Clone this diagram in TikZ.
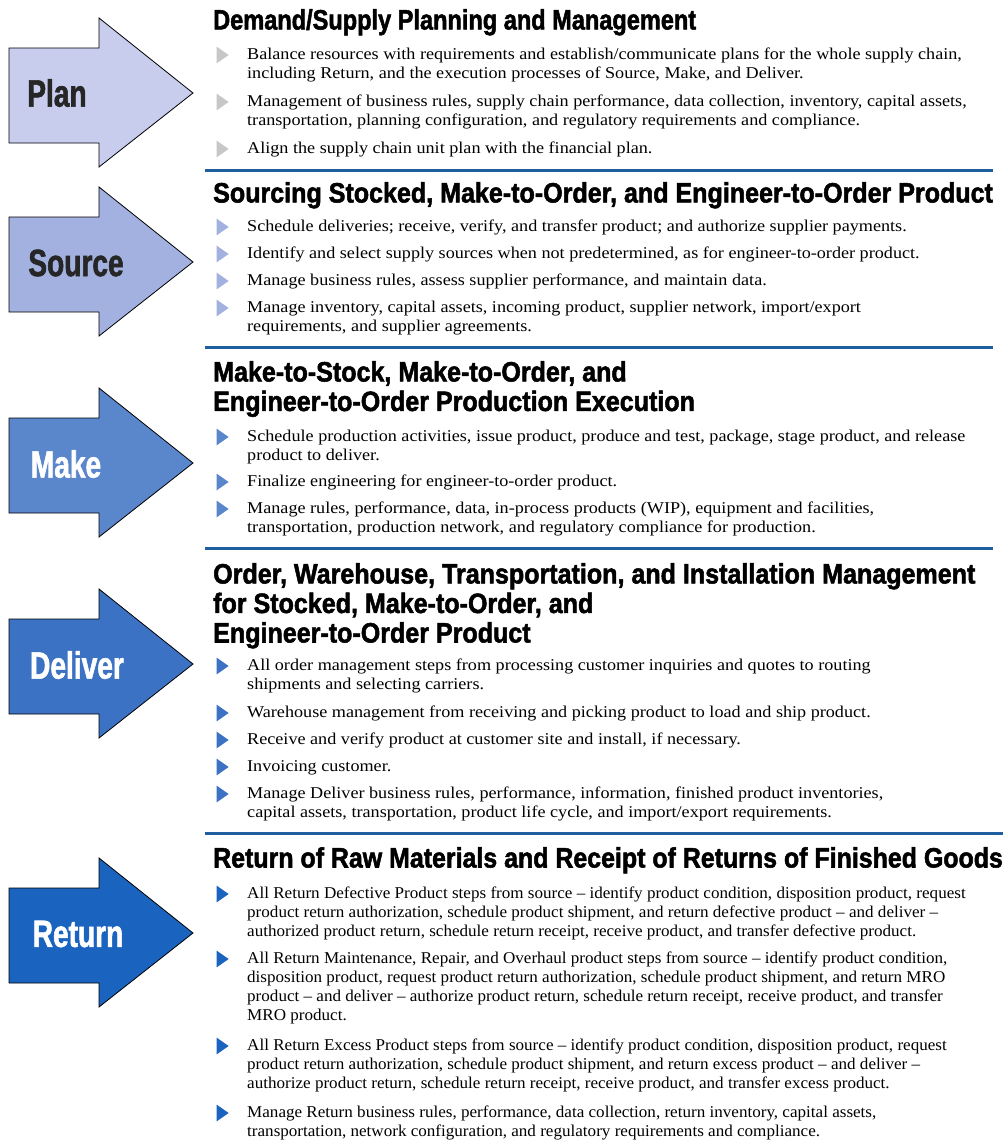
\documentclass[tikz,border=0pt]{standalone}
\usepackage{fontspec}
\setmainfont{Liberation Serif}[FakeStretch=1.1]
\newfontfamily\headfont{Liberation Sans}[FakeStretch=0.895,FakeBold=1.8]
\newfontfamily\lblfont{Liberation Sans}[FakeStretch=0.74,FakeBold=1.5]
\newfontfamily\narrowfont{Liberation Serif}[FakeStretch=1.035,Ligatures=TeX]
\usetikzlibrary{shapes.geometric}

\definecolor{planc}{HTML}{C8CDEE}
\definecolor{sourcec}{HTML}{A3B1E0}
\definecolor{makec}{HTML}{5A86CC}
\definecolor{deliverc}{HTML}{3C72C4}
\definecolor{returnc}{HTML}{1A63BE}
\definecolor{rulec}{HTML}{1F5FA0}

\tikzset{
  head/.style={anchor=north west, inner sep=0pt, align=left,
    font=\headfont\bfseries\fontsize{28}{29.5}\selectfont},
  item/.style={anchor=north west, inner sep=0pt, align=left,
    font=\fontsize{16.5}{19}\selectfont},
  ritem/.style={item, font=\narrowfont\fontsize{16.5}{19}\selectfont},
  bul/.style={isosceles triangle, isosceles triangle apex angle=70,
    inner sep=0pt, minimum height=12pt, minimum width=12pt, fill=#1},
  lbl/.style={font=\lblfont\bfseries\fontsize{38}{38}\selectfont, text=#1},
  sep/.style={draw=rulec, line width=3pt}
}

\begin{document}
\begin{tikzpicture}[x=1pt, y=-1pt]
\useasboundingbox (0,0) rectangle (1006,1143);

% the five arrows
\foreach \c/\col in {93/planc, 262/sourcec, 463/makec, 664/deliverc, 933/returnc}
  \draw[fill=\col, line width=0.8pt]
    (9,\c-45) -- (99,\c-45) -- (99,\c-75) -- (193,\c) -- (99,\c+74)
    -- (99,\c+50) -- (9,\c+50) -- cycle;
\node[lbl=black!85] (plan) at (57,93) {Plan};
\node[lbl=black!85] (source) at (76,263) {Source};
\node[lbl=white] (make) at (66,464) {Make};
\node[lbl=white] (deliver) at (77,665) {Deliver};
\node[lbl=white] (return) at (78,934) {Return};

% Plan
\node[head, xscale=0.94] (planhead) at (213,9) {Demand/Supply Planning and Management};
\node[bul=black!22] (pb1) at (221,55) {};
\node[item] (pt1) at (247,48) {Balance resources with requirements and establish/communicate plans for the whole supply chain,\\including Return, and the execution processes of Source, Make, and Deliver.};
\node[bul=black!22] (pb2) at (221,102) {};
\node[item] (pt2) at (247,95) {Management of business rules, supply chain performance, data collection, inventory, capital assets,\\transportation, planning configuration, and regulatory requirements and compliance.};
\node[bul=black!22] (pb3) at (221,149) {};
\node[item] (pt3) at (247,142) {Align the supply chain unit plan with the financial plan.};
\draw[sep] (205,170) -- (993,170);

% Source
\node[head] (sourcehead) at (213,182) {Sourcing Stocked, Make-to-Order, and Engineer-to-Order Product};
\node[bul=sourcec] (sb1) at (221,227) {};
\node[item] (st1) at (247,220) {Schedule deliveries; receive, verify, and transfer product; and authorize supplier payments.};
\node[bul=sourcec] (sb2) at (221,254) {};
\node[item] (st2) at (247,247) {Identify and select supply sources when not predetermined, as for engineer-to-order product.};
\node[bul=sourcec] (sb3) at (221,281) {};
\node[item] (st3) at (247,274) {Manage business rules, assess supplier performance, and maintain data.};
\node[bul=sourcec] (sb4) at (221,308) {};
\node[item] (st4) at (247,301) {Manage inventory, capital assets, incoming product, supplier network, import/export\\requirements, and supplier agreements.};
\draw[sep] (205,347) -- (993,347);

% Make
\node[head] (makehead) at (213,361) {Make-to-Stock, Make-to-Order, and\\Engineer-to-Order Production Execution};
\node[bul=makec] (mb1) at (221,437) {};
\node[item] (mt1) at (247,430) {Schedule production activities, issue product, produce and test, package, stage product, and release\\product to deliver.};
\node[bul=makec] (mb2) at (221,482) {};
\node[item] (mt2) at (247,475) {Finalize engineering for engineer-to-order product.};
\node[bul=makec] (mb3) at (221,509) {};
\node[item] (mt3) at (247,502) {Manage rules, performance, data, in-process products (WIP), equipment and facilities,\\transportation, production network, and regulatory compliance for production.};
\draw[sep] (205,548) -- (993,548);

% Deliver
\node[head] (deliverhead) at (213,563) {Order, Warehouse, Transportation, and Installation Management\\for Stocked, Make-to-Order, and\\Engineer-to-Order Product};
\node[bul=deliverc] (db1) at (221,666) {};
\node[item] (dt1) at (247,659) {All order management steps from processing customer inquiries and quotes to routing\\shipments and selecting carriers.};
\node[bul=deliverc] (db2) at (221,713) {};
\node[item] (dt2) at (247,706) {Warehouse management from receiving and picking product to load and ship product.};
\node[bul=deliverc] (db3) at (221,740) {};
\node[item] (dt3) at (247,733) {Receive and verify product at customer site and install, if necessary.};
\node[bul=deliverc] (db4) at (221,767) {};
\node[item] (dt4) at (247,760) {Invoicing customer.};
\node[bul=deliverc] (db5) at (221,794) {};
\node[item] (dt5) at (247,787) {Manage Deliver business rules, performance, information, finished product inventories,\\capital assets, transportation, product life cycle, and import/export requirements.};
\draw[sep] (205,833) -- (1003,833);

% Return
\node[head, xscale=0.995] (returnhead) at (213,847) {Return of Raw Materials and Receipt of Returns of Finished Goods};
\node[bul=returnc] (rb1) at (221,894) {};
\node[ritem] (rt1) at (247,887) {All Return Defective Product steps from source -- identify product condition, disposition product, request\\product return authorization, schedule product shipment, and return defective product -- and deliver --\\authorized product return, schedule return receipt, receive product, and transfer defective product.};
\node[bul=returnc] (rb2) at (221,959) {};
\node[ritem] (rt2) at (247,952) {All Return Maintenance, Repair, and Overhaul product steps from source -- identify product condition,\\disposition product, request product return authorization, schedule product shipment, and return MRO\\product -- and deliver -- authorize product return, schedule return receipt, receive product, and transfer\\MRO product.};
\node[bul=returnc] (rb3) at (221,1046) {};
\node[ritem] (rt3) at (247,1039) {All Return Excess Product steps from source -- identify product condition, disposition product, request\\product return authorization, schedule product shipment, and return excess product -- and deliver --\\authorize product return, schedule return receipt, receive product, and transfer excess product.};
\node[bul=returnc] (rb4) at (221,1113) {};
\node[ritem] (rt4) at (247,1106) {Manage Return business rules, performance, data collection, return inventory, capital assets,\\transportation, network configuration, and regulatory requirements and compliance.};
\end{tikzpicture}
\end{document}
